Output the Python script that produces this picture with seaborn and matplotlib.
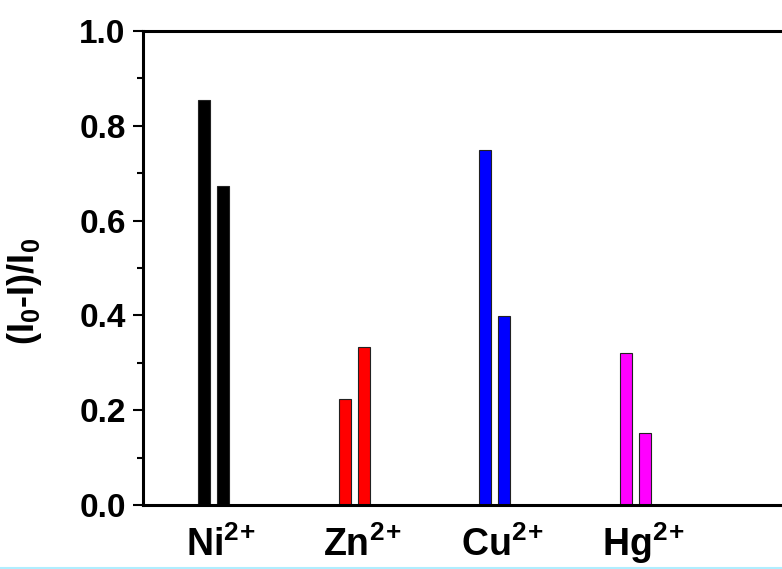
import matplotlib
matplotlib.use("Agg")
import matplotlib.pyplot as plt
import matplotlib.transforms as mtransforms
import seaborn as sns
import pandas as pd
from matplotlib.ticker import MultipleLocator
from matplotlib.lines import Line2D

# ---- data ----
categories = ["Ni$^{2}$$^{+}$", "Zn$^{2}$$^{+}$", "Cu$^{2}$$^{+}$", "Hg$^{2}$$^{+}$"]
series1 = [0.854, 0.224, 0.749, 0.321]
series2 = [0.673, 0.333, 0.399, 0.152]
bar_colors = ["#000000", "#FF0000", "#0000FF", "#FF00FF"]
yticks = [0.0, 0.2, 0.4, 0.6, 0.8, 1.0]

df = pd.DataFrame({
    "ion": categories * 2,
    "value": series1 + series2,
    "set": ["a"] * 4 + ["b"] * 4,
})

sns.set_style("ticks")
fam = ["Liberation Sans", "DejaVu Sans"]
plt.rcParams["font.family"] = fam
plt.rcParams["font.weight"] = "bold"
plt.rcParams["mathtext.default"] = "regular"
for k in ["text.color", "axes.labelcolor", "xtick.color", "ytick.color", "axes.edgecolor"]:
    plt.rcParams[k] = "black"

fig = plt.figure(figsize=(7.82, 5.69), dpi=100)
ax = fig.add_axes([143 / 782, 64 / 569, 703.5 / 782, 474 / 569])

sns.barplot(data=df, x="ion", y="value", hue="set", order=categories,
            palette=["k", "k"], width=0.27, gap=0.37, legend=False,
            edgecolor="#222222", linewidth=0.8, ax=ax)

for cont in ax.containers:
    for i, bar in enumerate(cont):
        bar.set_facecolor(bar_colors[i])

ax.set_xlim(-0.5, 4.5)
ax.set_ylim(0, 1.0)
ax.set_yticks(yticks)
ax.set_yticklabels([f"{t:.1f}" for t in yticks])
ax.yaxis.set_minor_locator(MultipleLocator(0.1))

for side in ["left", "bottom", "top"]:
    ax.spines[side].set_visible(True)
    ax.spines[side].set_linewidth(2.2)
    ax.spines[side].set_color("black")
ax.spines["right"].set_visible(False)

ax.tick_params(axis="y", which="major", direction="out", length=7.5, width=1.5,
               labelsize=24, pad=5, right=False, colors="black")
ax.tick_params(axis="y", which="minor", direction="out", length=4.5, width=1.5,
               right=False, colors="black")
ax.tick_params(axis="x", which="both", length=0, pad=37, top=False,
               labelcolor="black")

for lab in ax.get_yticklabels():
    lab.set_fontweight("bold")
    lab.set_fontfamily(fam)
shift = mtransforms.ScaledTranslation(8 / 100, 0, fig.dpi_scale_trans)
for lab in ax.get_xticklabels():
    lab.set_fontweight("bold")
    lab.set_fontsize(27)
    lab.set_fontfamily(fam)
    lab.set_verticalalignment("baseline")
    lab.set_transform(lab.get_transform() + shift)

ax.set_xlabel("")
ax.set_ylabel("(I$_0$-I)/I$_0$", fontsize=26, fontweight="bold", family=fam,
              color="black")
ax.yaxis.set_label_coords((44 - 143) / 703.5, 0.45)

fig.add_artist(Line2D([0, 1], [1.5 / 569, 1.5 / 569], transform=fig.transFigure,
                      color="#B0EEFF", linewidth=1.5))

fig.savefig("out.png", dpi=100)
